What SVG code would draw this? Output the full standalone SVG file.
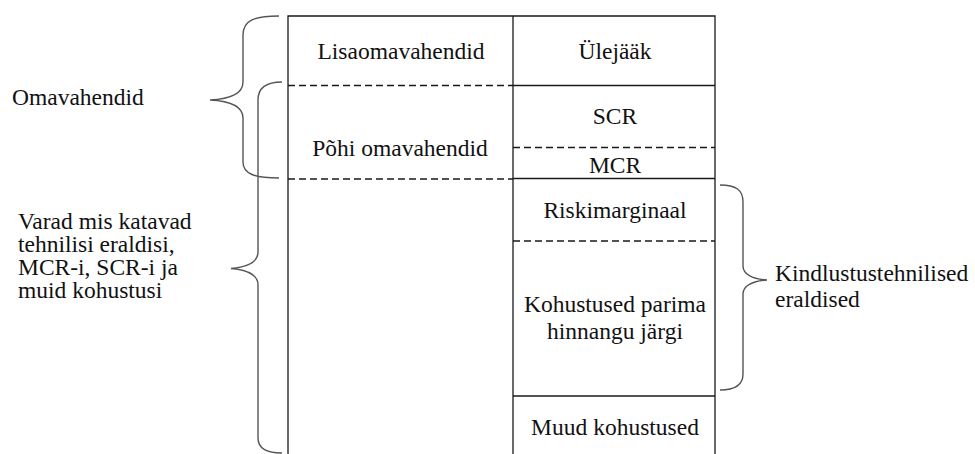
<svg xmlns="http://www.w3.org/2000/svg" width="975" height="454" viewBox="0 0 975 454">
<style>
.t{font-family:'Liberation Serif','Times New Roman','DejaVu Serif','Noto Serif',serif;font-size:23.5px;fill:#111}
.c{text-anchor:middle}
.s{stroke:#1a1a1a;stroke-width:1.3;fill:none}
.d{stroke:#1a1a1a;stroke-width:1.3;fill:none;stroke-dasharray:7 4}
.b{stroke:#555;stroke-width:1.4;fill:none}
</style>
<rect width="975" height="454" fill="#fff"/>
<g id="frame">
<path class="s" d="M288 454V16H715V454M513 16V454"/>
</g>
<g font-family="Liberation Serif, Times New Roman, DejaVu Serif, serif">
<g id="lisaomavahendid"><text class="t c" x="401" y="59">Lisaomavahendid</text></g>
<g id="ulejaak"><text class="t c" x="615" y="59">Ülejääk</text></g>
<g id="pohi"><text class="t c" x="400" y="156">Põhi omavahendid</text></g>
<g id="scr"><text class="t c" x="615" y="124">SCR</text></g>
<g id="mcr"><text class="t c" x="615" y="173">MCR</text></g>
<g id="riskimarginaal"><text class="t c" x="615" y="218">Riskimarginaal</text></g>
<g id="kohustused"><text class="t c" x="615" y="312">Kohustused parima</text><text class="t c" x="615" y="339">hinnangu järgi</text></g>
<g id="muud"><text class="t c" x="615" y="435">Muud kohustused</text></g>
<g id="omavahendid"><text class="t" x="12" y="105">Omavahendid</text></g>
<g id="varad"><text class="t" x="18" y="229">Varad mis katavad</text><text class="t" x="18" y="252">tehnilisi eraldisi,</text><text class="t" x="18" y="275">MCR-i, SCR-i ja</text><text class="t" x="18" y="298">muid kohustusi</text></g>
<g id="kindlustus"><text class="t" x="775" y="281">Kindlustustehnilised</text><text class="t" x="775" y="307">eraldised</text></g>
</g>
<g id="connectors">
<path class="d" d="M288 85.5H513M288 179H513M513 147.5H715M513 241H715"/>
<path class="s" d="M513 85.5H715M513 178.5H715M513 396H715"/>
<path class="b" d="M279 16C255 16 243 20 243 35V82C243 94 230 99 210 100C230 101 243 106 243 118V162C243 174 255 178 279 178"/>
<path class="b" d="M282 82C266 82 258 88 258 100V252C258 262 248 267 231 268.5C248 270 258 275 258 285V438C258 448 266 453 282 453"/>
<path class="b" d="M720 185C736 185 743 190 743 202V266C743 274 752 279 767 280C752 281 743 286 743 294V374C743 384 736 390 720 390"/>
</g>
</svg>
